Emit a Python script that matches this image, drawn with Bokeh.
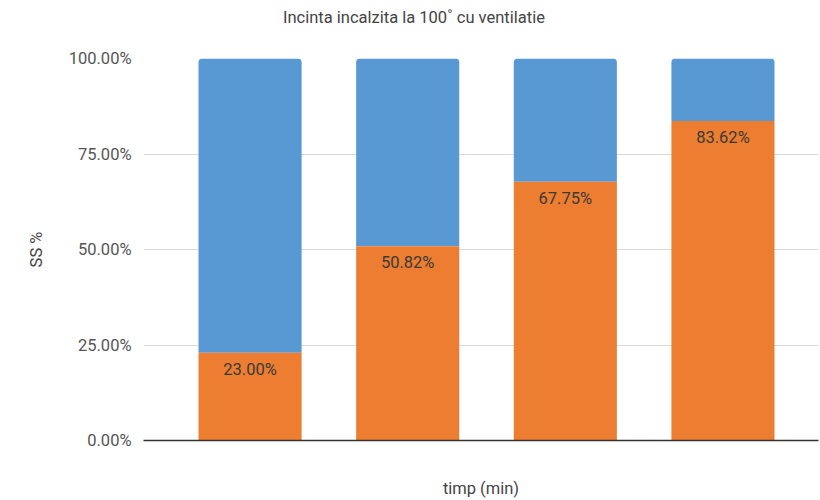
from bokeh.plotting import figure
from bokeh.layouts import column
from bokeh.models import ColumnDataSource, FixedTicker, PrintfTickFormatter, Range1d, LabelSet, Div
from bokeh.core.properties import value
from bokeh.embed import file_html
from bokeh.resources import INLINE

categories = ["1", "2", "3", "4"]
positions = [1, 2, 3, 4]
orange_vals = [23.00, 50.82, 67.75, 83.62]
blue_vals = [100 - v for v in orange_vals]
labels = ["23.00%", "50.82%", "67.75%", "83.62%"]
y_ticks = [0, 25, 50, 75, 100]
title_text = "Incinta incalzita la 100˚ cu ventilatie"

FONT = "Roboto"
FS = "16.5px"

src = ColumnDataSource(dict(x=positions, orange=orange_vals, blue=blue_vals,
                            total=[o + b for o, b in zip(orange_vals, blue_vals)],
                            label=labels))

p = figure(width=820, height=464, output_backend="svg", toolbar_location=None,
           x_range=Range1d(0.324, 4.606), y_range=Range1d(0, 100),
           min_border_left=143, min_border_right=2, min_border_top=22, min_border_bottom=60)

p.vbar(x="x", top="total", bottom="orange", width=0.654, source=src,
       fill_color="#5899d4", line_color=None, border_radius=(4, 4, 0, 0))
p.vbar(x="x", top="orange", bottom=0, width=0.654, source=src,
       fill_color="#ec7d31", line_color=None)

lbl = LabelSet(x="x", y="orange", text="label", source=src, text_align="center",
               text_baseline="top", y_offset=-7, text_font=value(FONT),
               text_font_size=FS, text_color="#3a3a3a")
p.add_layout(lbl)

p.yaxis.ticker = FixedTicker(ticks=y_ticks)
p.yaxis.formatter = PrintfTickFormatter(format="%.2f%%")
p.yaxis.axis_line_color = None
p.yaxis.major_tick_line_color = None
p.yaxis.minor_tick_line_color = None
p.yaxis.major_label_text_font = FONT
p.yaxis.major_label_text_font_size = FS
p.yaxis.major_label_text_color = "#555555"
p.yaxis.major_label_standoff = 6
p.yaxis.axis_label = "SS %"
p.yaxis.axis_label_text_font = FONT
p.yaxis.axis_label_text_font_size = FS
p.yaxis.axis_label_text_font_style = "normal"
p.yaxis.axis_label_text_color = "#444444"
p.yaxis.axis_label_standoff = 20

p.xaxis.ticker = FixedTicker(ticks=[])
p.xaxis.axis_line_color = "#333333"
p.xaxis.axis_line_width = 1.5
p.xaxis.major_tick_line_color = None
p.xaxis.minor_tick_line_color = None
p.xaxis.axis_label = "timp (min)"
p.xaxis.axis_label_text_font = FONT
p.xaxis.axis_label_text_font_size = FS
p.xaxis.axis_label_text_font_style = "normal"
p.xaxis.axis_label_text_color = "#444444"
p.xaxis.axis_label_standoff = 38

p.xgrid.grid_line_color = None
p.ygrid.ticker = FixedTicker(ticks=y_ticks)
p.ygrid.grid_line_color = "#d9d9d9"
p.outline_line_color = None

title_div = Div(text=title_text, width=820, height=36, margin=(0, 0, 0, 0),
                styles={"font-family": FONT, "font-size": FS, "color": "#444444",
                        "padding-left": "283px", "padding-top": "8px",
                        "line-height": "19px", "white-space": "nowrap"})

layout = column(title_div, p, spacing=0, margin=(0, 0, 0, 0))

open("out.html", "w").write(file_html(layout, INLINE))
